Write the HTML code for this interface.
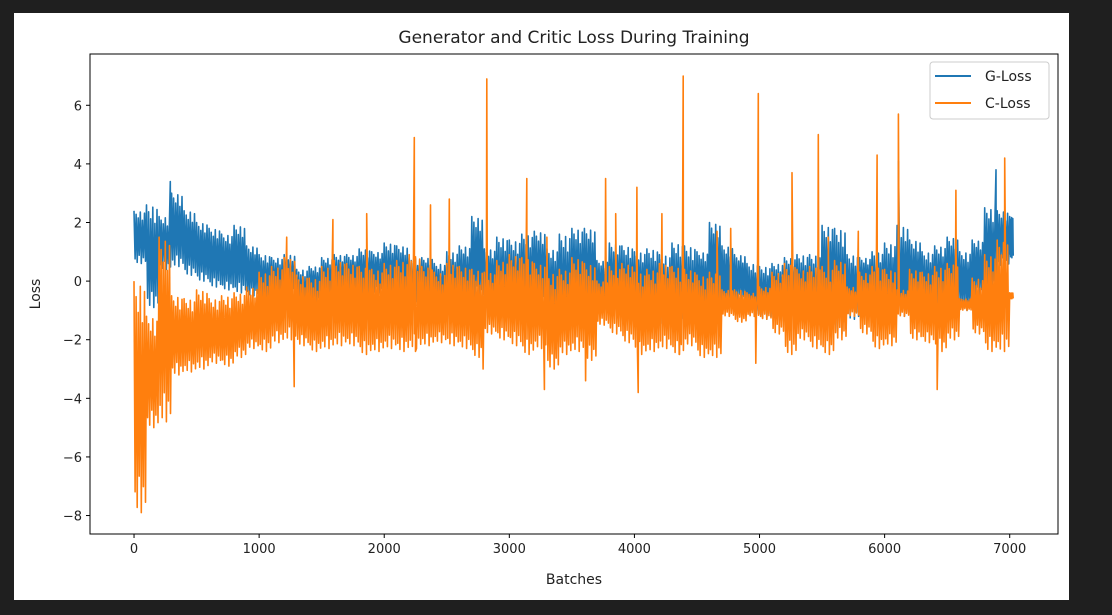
<!DOCTYPE html>
<html><head><meta charset="utf-8">
<style>
html,body{margin:0;padding:0;background:#1f1f1f;width:1112px;height:615px;overflow:hidden}
#fig{position:absolute;left:14px;top:13px;width:1055px;height:587px;background:#fff}
svg{position:absolute;left:0;top:0}
text{font-family:"DejaVu Sans","Liberation Sans",sans-serif;fill:#222}
</style></head>
<body>
<div id="fig"></div>
<svg id="chart" width="1112" height="615"></svg>
<script>
const xTicks=[0,1000,2000,3000,4000,5000,6000,7000];
const yTicks=[-8,-6,-4,-2,0,2,4,6];
const binSize=100;
const gHi=[2.4,2.6,2.2,3.0,2.4,2.0,1.8,1.6,1.9,1.2,0.9,0.8,0.9,0.4,0.5,0.8,0.9,0.9,1.1,1.0,1.3,1.2,0.8,0.8,0.6,1.0,1.2,2.2,1.1,1.5,1.4,1.6,1.7,1.1,1.6,1.8,1.8,0.7,1.3,1.2,1.0,1.1,0.9,1.3,1.2,1.0,2.0,1.2,0.9,0.6,0.5,0.6,0.8,0.9,0.9,1.9,1.8,0.9,0.8,1.0,1.3,1.9,1.4,1.0,1.2,1.5,1.0,1.4,2.5,2.4,2.2];
const gLo=[0.6,-0.9,0.4,0.5,0.2,0.0,-0.2,-0.3,-0.4,-0.5,-0.7,-0.6,-0.4,-1.0,-0.7,-0.6,-0.5,-0.5,-0.6,-0.4,-0.7,-0.6,-0.7,-0.6,-0.9,-1.0,-0.9,-0.6,-0.8,-1.2,-1.3,-1.0,-0.8,-1.3,-1.8,-1.1,-1.0,-0.7,-1.0,-1.2,-1.1,-1.3,-1.5,-1.4,-1.6,-0.9,-0.9,-0.9,-0.7,-1.2,-1.3,-1.0,-0.9,-1.2,-1.5,-1.2,-1.8,-1.3,-0.6,-1.1,-1.5,-1.2,-0.9,-1.1,-0.9,-0.8,-1.0,-0.5,-0.3,0.5,0.8];
const cHi=[0.0,-1.2,1.5,-0.5,-0.6,-0.3,-0.6,-0.5,-0.4,-0.2,0.3,0.5,0.8,0.2,0.1,0.5,0.7,0.6,0.5,0.4,0.6,0.7,0.9,0.5,0.3,0.6,0.5,0.4,0.3,0.7,0.9,0.8,0.6,0.3,0.4,0.8,0.6,0.0,0.5,0.6,0.3,0.4,0.6,0.5,0.4,0.2,0.3,-0.3,-0.3,-0.4,-0.2,0.3,0.6,0.4,0.5,0.5,0.7,-0.2,0.3,0.5,0.4,-0.3,0.4,0.3,0.5,0.6,-0.6,0.1,0.9,1.4,-0.4];
const cLo=[-7.9,-5.0,-4.8,-3.2,-3.1,-3.0,-2.8,-2.9,-2.6,-2.3,-2.4,-2.1,-2.0,-2.2,-2.4,-2.3,-2.2,-2.2,-2.5,-2.4,-2.3,-2.4,-2.3,-2.2,-2.1,-2.2,-2.3,-2.6,-1.8,-2.0,-2.2,-2.5,-2.3,-3.0,-2.5,-2.4,-2.7,-1.5,-1.8,-2.1,-2.5,-2.4,-2.3,-2.5,-2.2,-2.6,-2.6,-1.2,-1.4,-1.2,-1.3,-1.8,-2.5,-2.0,-2.3,-2.5,-2.0,-1.2,-1.8,-2.3,-2.2,-1.2,-2.0,-2.1,-2.4,-2.0,-1.0,-1.8,-2.4,-2.4,-0.6];
const gSpikeX=[290,6110,6890];
const gSpikeY=[3.4,4.1,3.8];
const cSpikeX=[1220,1280,1590,1860,2240,2250,2370,2520,2790,2820,3140,3280,3300,3610,3770,3850,4020,4030,4220,4360,4390,4660,4770,4970,4990,5260,5470,5550,5790,5940,6110,6420,6570,6960];
const cSpikeY=[1.5,-3.6,2.1,2.3,4.9,-2.4,2.6,2.8,-3.0,6.9,3.5,-3.7,1.5,-3.4,3.5,2.3,3.2,-3.8,2.3,-2.5,7.0,1.7,1.8,-2.8,6.4,3.7,5.0,1.5,1.7,4.3,5.7,-3.7,3.1,4.2];

const L=90,R=1058,T=54,B=534;
const xMin=-352,xMax=7386,yMin=-8.63,yMax=7.75;
const sx=v=>L+(v-xMin)/(xMax-xMin)*(R-L);
const sy=v=>B-(v-yMin)/(yMax-yMin)*(B-T);
const NS="http://www.w3.org/2000/svg";
const svg=document.getElementById('chart');
function mk(tag,attrs,parent){const e=document.createElementNS(NS,tag);for(const k in attrs)e.setAttribute(k,attrs[k]);(parent||svg).appendChild(e);return e;}

const clip=mk('clipPath',{id:'pc'});mk('rect',{x:L,y:T,width:R-L,height:B-T},clip);

const frac=[1,0.2,0.85,0.05,0.7,0.35,0.95,0,0.6,0.25,0.9,0.1];
function series(hi,lo,spX,spY,color,name){
  const pts=[];
  const n=Math.min(hi.length,lo.length);
  for(let i=0;i<n;i++){
    const x0=i*binSize;
    const w=(i==n-1)?30:binSize;
    for(let k=0;k<frac.length;k++){
      const f=frac[k];
      const t=(k%2==0)?f:1-f;
      const v=lo[i]+(hi[i]-lo[i])*(k%2==0?(0.55+0.45*f):(0.45*(1-t)));
      pts.push([x0+w*k/frac.length,v]);
    }
  }
  for(let j=0;j<spX.length;j++){pts.push([spX[j],spY[j]]);}
  pts.sort((a,b)=>a[0]-b[0]);
  const d=pts.map((p,i)=>(i?'L':'M')+sx(p[0]).toFixed(1)+' '+sy(p[1]).toFixed(1)).join('');
  const path=mk('path',{d:d,fill:'none',stroke:color,'stroke-width':1.6,'stroke-linejoin':'round','clip-path':'url(#pc)'});
  
  
}
series(gHi,gLo,gSpikeX,gSpikeY,'#1f77b4','g-loss-line');
series(cHi,cLo,cSpikeX,cSpikeY,'#ff7f0e','c-loss-line');

const frame=mk('rect',{x:L,y:T,width:R-L,height:B-T,fill:'none',stroke:'#000','stroke-width':1});



xTicks.forEach(v=>{
  const x=sx(v);
  mk('line',{x1:x,x2:x,y1:B,y2:B+4,stroke:'#000'});
  const t=mk('text',{x:x,y:B+19,'text-anchor':'middle','font-size':13});
  t.textContent=v;
  
  
});
yTicks.forEach(v=>{
  const y=sy(v);
  mk('line',{x1:L-4,x2:L,y1:y,y2:y,stroke:'#000'});
  const t=mk('text',{x:L-8,y:y+5,'text-anchor':'end','font-size':13});
  t.textContent=v<0?'\u2212'+(-v):v;
  
  
});

const title=mk('text',{x:(L+R)/2,y:43,'text-anchor':'middle','font-size':17});
title.textContent='Generator and Critic Loss During Training';


const xl=mk('text',{x:(L+R)/2,y:584,'text-anchor':'middle','font-size':14});
xl.textContent='Batches';


const yl=mk('text',{x:0,y:0,'text-anchor':'middle','font-size':14,transform:'translate(40,294) rotate(-90)'});
yl.textContent='Loss';



const lg=mk('g',{});


mk('rect',{x:930,y:62,width:119,height:57,rx:3,fill:'#fff',stroke:'#ccc'},lg);
[['G-Loss','#1f77b4',76],['C-Loss','#ff7f0e',103]].forEach(e=>{
  const ln=mk('line',{x1:935,x2:971,y1:e[2],y2:e[2],stroke:e[1],'stroke-width':2},lg);
  
  
  const t=mk('text',{x:985,y:e[2]+5,'font-size':14},lg);
  t.textContent=e[0];
  
  
});
</script>
</body></html>
